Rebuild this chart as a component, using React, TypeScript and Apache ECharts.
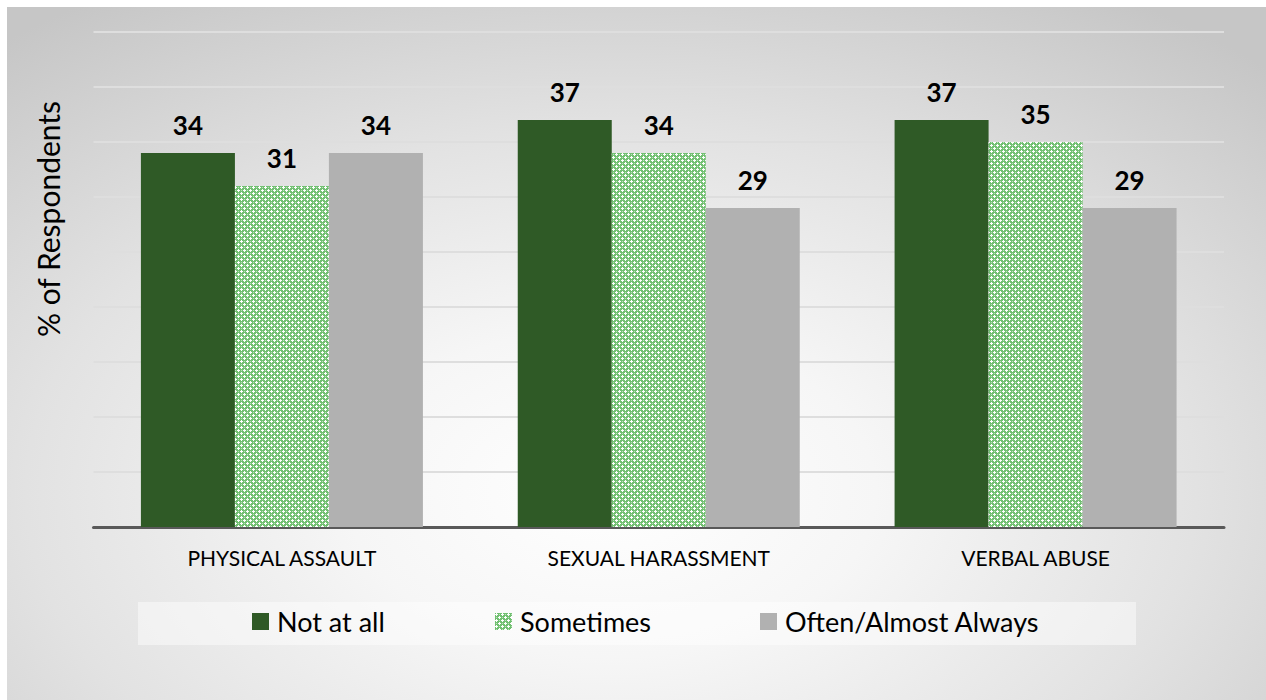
import React, { useEffect, useRef } from "react";
import * as echarts from "echarts";

const categories = ["PHYSICAL ASSAULT", "SEXUAL HARASSMENT", "VERBAL ABUSE"];
const seriesNames = ["Not at all", "Sometimes", "Often/Almost Always"];
const notAtAll = [34, 37, 37];
const sometimes = [31, 34, 35];
const oftenAlways = [34, 29, 29];
const yTitle = "% of Respondents";

function makePattern(): HTMLCanvasElement {
  const c = document.createElement("canvas");
  c.width = 6;
  c.height = 6;
  const ctx = c.getContext("2d")!;
  ctx.fillStyle = "#72c072";
  ctx.fillRect(0, 0, 6, 6);
  ctx.fillStyle = "#ffffff";
  const plus = (cx: number, cy: number) => {
    const pts = [
      [cx, cy],
      [cx - 1, cy],
      [cx + 1, cy],
      [cx, cy - 1],
      [cx, cy + 1],
    ];
    pts.forEach(([x, y]) => ctx.fillRect((x + 6) % 6, (y + 6) % 6, 1, 1));
  };
  plus(1, 1);
  plus(4, 4);
  ctx.fillStyle = "#b8e0b8";
  ctx.fillRect(4, 1, 1, 1);
  ctx.fillRect(1, 4, 1, 1);
  return c;
}

export default function App() {
  const ref = useRef<HTMLDivElement>(null);
  useEffect(() => {
    const chart = echarts.init(ref.current!, null, { renderer: "svg" });
    const pattern = { image: makePattern(), repeat: "repeat" } as any;
    const font = "Lato, 'Open Sans', sans-serif";
    const label = {
      show: true,
      position: "top",
      distance: 15,
      fontSize: 26,
      fontWeight: "bold",
      color: "#000",
      fontFamily: font,
    };
    const legendBase = {
      top: 603,
      itemWidth: 17,
      itemHeight: 17,
      selectedMode: false,
      icon: "rect",
      textStyle: { fontSize: 27, color: "#000", fontFamily: font, padding: [0, 0, 0, 3] },
    };
    chart.setOption({
      animation: false,
      backgroundColor: "transparent",
      graphic: [
        {
          type: "rect",
          shape: { x: 138, y: 602, width: 998, height: 43 },
          style: { fill: "rgba(255,255,255,0.45)" },
          silent: true,
        },
        {
          type: "text",
          x: 48,
          y: 219,
          rotation: Math.PI / 2,
          style: {
            text: yTitle,
            fontSize: 30,
            fontFamily: font,
            fill: "#000",
            align: "center",
            verticalAlign: "middle",
          },
        },
      ],
      legend: [
        { ...legendBase, left: 247, data: [seriesNames[0]] },
        { ...legendBase, left: 490, data: [seriesNames[1]] },
        { ...legendBase, left: 755, data: [seriesNames[2]] },
      ],
      grid: { left: 93.5, right: 42, top: 32, bottom: 173 },
      xAxis: {
        type: "category",
        data: categories,
        axisLine: { lineStyle: { color: "#595959", width: 3 } },
        axisTick: { show: false },
        axisLabel: { fontSize: 21, color: "#000", fontFamily: font, margin: 20 },
      },
      yAxis: {
        type: "value",
        min: 0,
        max: 45,
        interval: 5,
        axisLabel: { show: false },
        axisLine: { show: false },
        axisTick: { show: false },
        splitLine: { lineStyle: { color: "#dedede", width: 2 } },
      },
      series: [
        {
          name: seriesNames[0],
          type: "bar",
          data: notAtAll,
          barWidth: 94,
          barGap: "0%",
          itemStyle: { color: "#2f5a26" },
          label,
        },
        {
          name: seriesNames[1],
          type: "bar",
          data: sometimes,
          barWidth: 94,
          barGap: "0%",
          itemStyle: { color: pattern },
          label,
        },
        {
          name: seriesNames[2],
          type: "bar",
          data: oftenAlways,
          barWidth: 94,
          barGap: "0%",
          itemStyle: { color: "#b1b1b1" },
          label,
        },
      ],
    });
    return () => chart.dispose();
  }, []);
  return (
    <div style={{ position: "absolute", left: 0, top: 0, width: 1266, height: 700, background: "#fff" }}>
      <div
        style={{
          position: "absolute",
          left: 7,
          top: 7,
          width: 1259,
          height: 693,
          background:
            "radial-gradient(ellipse 75% 85% at 48% 70%, #ffffff 0%, #f6f6f6 28%, #e2e2e2 62%, #c6c6c6 100%)",
        }}
      />
      <div ref={ref} style={{ position: "absolute", left: 0, top: 0, width: 1266, height: 700 }} />
    </div>
  );
}
